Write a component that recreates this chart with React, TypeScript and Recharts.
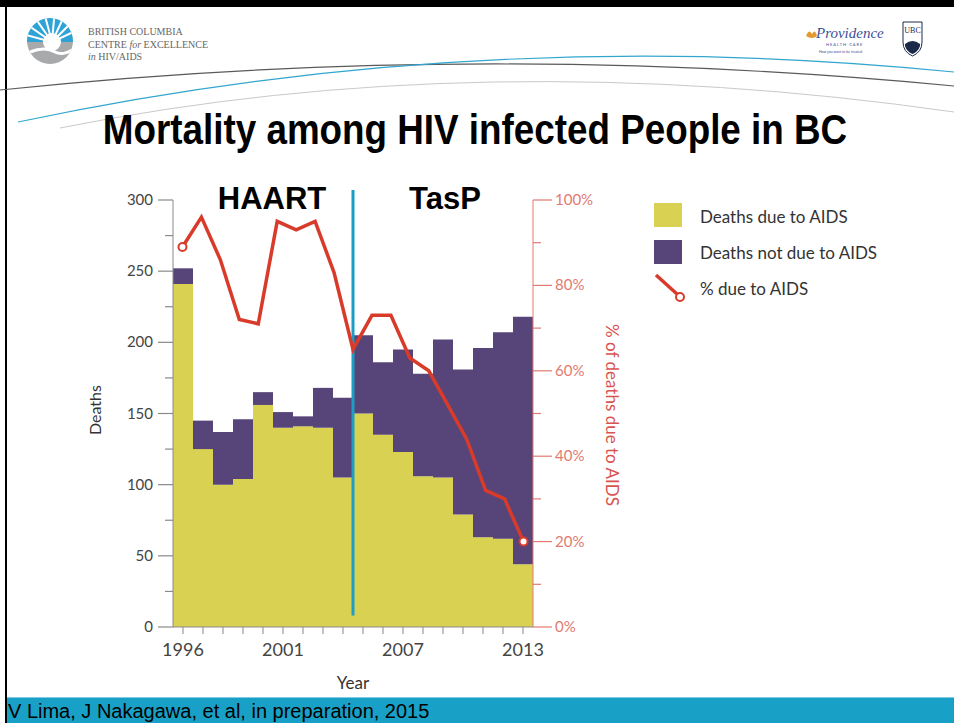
import React from "react";
import {
  ComposedChart,
  Bar,
  Line,
  XAxis,
  YAxis,
  ReferenceLine,
} from "recharts";

// yearly deaths
const years = [
  "1996", "1997", "1998", "1999", "2000", "2001", "2002", "2003", "2004",
  "2005", "2006", "2007", "2008", "2009", "2010", "2011", "2012", "2013",
];
const aidsDeaths = [241, 125, 100, 104, 156, 140, 141, 140, 105, 150, 135, 123, 106, 105, 79, 63, 62, 44];
const otherDeaths = [11, 20, 37, 42, 9, 11, 7, 28, 56, 55, 51, 72, 72, 97, 102, 133, 145, 174];

// the % line on the slide has 19 vertices spread over the same width
const pctPoints = [
  "1995", "1996", "1997", "1998", "1999", "2000", "2001", "2002", "2003", "2004",
  "2005", "2006", "2007", "2008", "2009", "2010", "2011", "2012", "2013",
];
const pctDueToAids = [89, 96, 86, 72, 71, 95, 93, 95, 83, 65, 73, 73, 63, 60, 52, 44, 32, 30, 20];

const yearLabels = ["1996", "2001", "2007", "2013"];
const deathTicks = [0, 25, 50, 75, 100, 125, 150, 175, 200, 225, 250, 275, 300];
const pctTicks = [0, 10, 20, 30, 40, 50, 60, 70, 80, 90, 100];
const legendLabels = ["Deaths due to AIDS", "Deaths not due to AIDS", "% due to AIDS"];
const tasPStart = "2005";

const YELLOW = "#d9d152";
const PURPLE = "#574478";
const RED = "#d93b2b";
const SALMON = "#e27a72";
const CYAN = "#1e9ec4";
const AXIS_GREY = "#8a8a8a";
const FONT = "Lato, 'Open Sans', sans-serif";

const barData = years.map((y, i) => ({ year: y, aids: aidsDeaths[i], other: otherDeaths[i] }));
const pctData = pctPoints.map((p, i) => ({ point: p, pct: pctDueToAids[i] }));

const LeftTick = (props: any) => {
  const { x, y, payload } = props;
  const axisX = x + 20;
  const major = payload.value % 50 === 0;
  return (
    <g>
      <line x1={major ? axisX - 15 : axisX - 8} x2={axisX} y1={y} y2={y} stroke={AXIS_GREY} strokeWidth={1.2} />
      {major && (
        <text x={axisX - 20} y={y} dy={5} textAnchor="end" fontSize={15} fill="#444" fontFamily={FONT}>
          {payload.value}
        </text>
      )}
    </g>
  );
};

const RightTick = (props: any) => {
  const { x, y, payload } = props;
  const axisX = x - 22;
  const major = payload.value % 20 === 0;
  return (
    <g>
      <line x1={axisX} x2={major ? axisX + 19 : axisX + 8} y1={y} y2={y} stroke={SALMON} strokeWidth={1.2} />
      {major && (
        <text x={axisX + 22} y={y} dy={5} textAnchor="start" fontSize={15} fill={SALMON} fontFamily={FONT}>
          {payload.value + "%"}
        </text>
      )}
    </g>
  );
};

const EndDot = (props: any) => {
  const { cx, cy, index } = props;
  if (index !== 0 && index !== pctDueToAids.length - 1) return <g key={"d" + index} />;
  return <circle key={"d" + index} cx={cx} cy={cy} r={4} fill="#fff" stroke={RED} strokeWidth={2} />;
};

const LegendBox = () => (
  <svg width={300} height={110} style={{ position: "absolute", left: 650, top: 198 }}>
    <rect x={4} y={5} width={28} height={24} fill={YELLOW} />
    <rect x={4} y={42} width={28} height={24} fill={PURPLE} />
    <line x1={6} y1={77} x2={27} y2={96} stroke={RED} strokeWidth={3.5} />
    <circle cx={30} cy={99} r={4} fill="#fff" stroke={RED} strokeWidth={2} />
    {legendLabels.map((t, i) => (
      <text key={t} x={50} y={19 + i * 36} dy={6} fontSize={17} fill="#333" fontFamily={FONT}>
        {t}
      </text>
    ))}
  </svg>
);

const SlideBackground = () => (
  <svg width={954} height={723} style={{ position: "absolute", left: 0, top: 0 }}>
    <rect x={0} y={0} width={954} height={723} fill="#fff" />
    {/* frame */}
    <rect x={0} y={0} width={954} height={7} fill="#000" />
    <rect x={5} y={0} width={2} height={723} fill="#000" />

    {/* BC centre logo */}
    <defs>
      <clipPath id="bcLogo">
        <circle cx={50} cy={41} r={23} />
      </clipPath>
    </defs>
    <g clipPath="url(#bcLogo)">
      <rect x={25} y={16} width={50} height={26} fill="#2fa3d6" />
      <rect x={25} y={42} width={50} height={26} fill="#a7a9ab" />
      <circle cx={52} cy={42} r={9} fill="#fff" />
      {[-75, -55, -35, -15, 5, 25, 45, 65].map((a) => (
        <line
          key={a}
          x1={52}
          y1={42}
          x2={52 + 30 * Math.sin((a * Math.PI) / 180)}
          y2={42 - 30 * Math.cos((a * Math.PI) / 180)}
          stroke="#fff"
          strokeWidth={2}
        />
      ))}
      <path d="M30 52 Q45 46 55 52 Q62 56 72 50" stroke="#fff" strokeWidth={3} fill="none" />
    </g>
    <g fontFamily="'Liberation Serif', 'DejaVu Serif', serif" fontSize={10} fill="#666">
      <text x={88} y={35}>BRITISH COLUMBIA</text>
      <text x={88} y={48}>
        CENTRE <tspan fontStyle="italic">for</tspan> EXCELLENCE
      </text>
      <text x={88} y={60}>
        <tspan fontStyle="italic">in</tspan> HIV/AIDS
      </text>
    </g>

    {/* Providence + UBC */}
    <path d="M806 36 q3 -8 6 -2 q3 -6 5 2 q-5 4 -11 0z" fill="#e59a2f" />
    <text x={816} y={38} fontFamily="'Liberation Serif', serif" fontStyle="italic" fontSize={15} fill="#3c4f98">
      Providence
    </text>
    <text x={826} y={46} fontFamily="Lato, sans-serif" fontSize={4} fill="#3c4f98" letterSpacing={1}>
      HEALTH CARE
    </text>
    <text x={819} y={53} fontFamily="Lato, sans-serif" fontSize={3.5} fill="#3c4f98">
      How you want to be treated.
    </text>
    <path d="M903 22 h19 v20 q0 10 -9.5 14 q-9.5 -4 -9.5 -14z" fill="#fff" stroke="#1c2a4a" strokeWidth={1} />
    <text x={912.5} y={33} textAnchor="middle" fontFamily="'Liberation Serif', serif" fontSize={8} fill="#1c2a4a">
      UBC
    </text>
    <path d="M905 44 q7.5 -6 15 0 v2 q-2 6 -7.5 8 q-5.5 -2 -7.5 -8z" fill="#1c2a4a" />

    {/* header swooshes */}
    <path d="M0 90 Q475 40 954 86" stroke="#5a5a5a" strokeWidth={1.2} fill="none" />
    <path d="M18 122 Q480 24 954 72" stroke="#33a6cf" strokeWidth={1.2} fill="none" />
    <path d="M60 128 Q480 44 954 112" stroke="#c9c9c9" strokeWidth={1} fill="none" />

    {/* title, condensed bold like the slide */}
    <text
      transform="translate(475 144) scale(0.856 1)"
      x={0}
      y={0}
      textAnchor="middle"
      fontFamily="'Liberation Sans', Arial, sans-serif"
      fontWeight="bold"
      fontSize={43}
      fill="#000"
    >
      Mortality among HIV infected People in BC
    </text>

    {/* era labels */}
    <g fontFamily="'Liberation Sans', Arial, sans-serif" fontWeight="bold" fontSize={31} fill="#000">
      <text x={272} y={209} textAnchor="middle">HAART</text>
      <text x={445} y={209} textAnchor="middle">TasP</text>
    </g>

    {/* axis titles */}
    <text x={95} y={410} transform="rotate(-90 95 410)" textAnchor="middle" dy={6} fontFamily={FONT} fontSize={16} fill="#333">
      Deaths
    </text>
    <text x={612} y={415} transform="rotate(90 612 415)" textAnchor="middle" dy={6} fontFamily={FONT} fontSize={17} fill="#d9534f">
      % of deaths due to AIDS
    </text>
    <text x={353} y={683} textAnchor="middle" dy={6} fontFamily={FONT} fontSize={17} fill="#333">
      Year
    </text>

    {/* footer band */}
    <rect x={7} y={697} width={947} height={26} fill="#19a0c6" />
    <rect x={7} y={697} width={947} height={1} fill="#7fcbe3" />
    <text x={8} y={718} fontFamily="'Liberation Sans', Arial, sans-serif" fontSize={20} fill="#000">
      V Lima, J Nakagawa, et al, in preparation, 2015
    </text>
  </svg>
);

export default function App() {
  return (
    <div style={{ position: "absolute", left: 0, top: 0, width: 954, height: 723, overflow: "hidden" }}>
      <SlideBackground />
      <div style={{ position: "absolute", left: 0, top: 0 }}>
        <ComposedChart
          width={954}
          height={723}
          data={barData}
          barCategoryGap={0}
          margin={{ top: 200, right: 361, bottom: 66, left: 113 }}
        >
          <XAxis
            xAxisId="bars"
            dataKey="year"
            height={30}
            interval={0}
            stroke={AXIS_GREY}
            tickSize={7}
            tickMargin={9}
            tick={{ fontSize: 18, fill: "#444", fontFamily: FONT }}
            tickFormatter={(v: string) => (yearLabels.includes(v) ? v : "")}
          />
          <XAxis xAxisId="pct" dataKey="point" hide />
          <YAxis
            yAxisId="left"
            width={60}
            domain={[0, 300]}
            ticks={deathTicks}
            interval={0}
            stroke={AXIS_GREY}
            tickSize={15}
            tickMargin={5}
            tickLine={false}
            tick={<LeftTick />}
          />
          <YAxis
            yAxisId="right"
            orientation="right"
            width={60}
            domain={[0, 100]}
            ticks={pctTicks}
            interval={0}
            stroke={SALMON}
            tickSize={19}
            tickMargin={3}
            tickLine={false}
            tick={<RightTick />}
          />
          <Bar xAxisId="bars" yAxisId="left" dataKey="aids" stackId="d" fill={YELLOW} isAnimationActive={false} />
          <Bar xAxisId="bars" yAxisId="left" dataKey="other" stackId="d" fill={PURPLE} isAnimationActive={false} />
          <ReferenceLine
            xAxisId="bars"
            yAxisId="left"
            position="start"
            segment={[
              { x: tasPStart, y: 8 },
              { x: tasPStart, y: 307 },
            ]}
            stroke={CYAN}
            strokeWidth={3}
            ifOverflow="visible"
          />
          <Line
            xAxisId="pct"
            yAxisId="right"
            data={pctData}
            dataKey="pct"
            type="linear"
            stroke={RED}
            strokeWidth={3.5}
            dot={EndDot}
            activeDot={false}
            isAnimationActive={false}
          />
        </ComposedChart>
      </div>
      <LegendBox />
    </div>
  );
}
